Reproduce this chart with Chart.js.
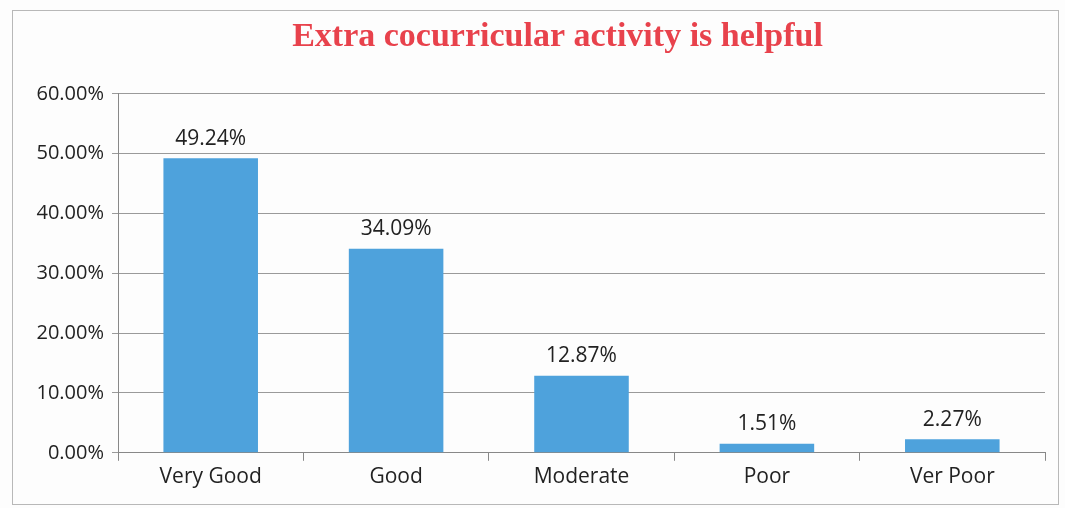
<!DOCTYPE html>
<html>
<head>
<meta charset="utf-8">
<script src="https://cdn.jsdelivr.net/npm/chart.js@4.4.1/dist/chart.umd.min.js"></script>
<style>
  html, body { margin: 0; padding: 0; background: #fdfdfd; }
  #wrap { position: relative; width: 1065px; height: 508px; }
  #frame { position: absolute; left: 12px; top: 10px; right: 6px; bottom: 3px; border: 1px solid #b8b8b8; pointer-events: none; }
</style>
</head>
<body>
<div id="wrap">
  <canvas id="myChart" width="1065" height="508"></canvas>
  <div id="frame"></div>
</div>
<script>
const categories = ['Very Good', 'Good', 'Moderate', 'Poor', 'Ver Poor'];
const percentages = [49.24, 34.09, 12.87, 1.51, 2.27];
const yTickValues = [0, 10, 20, 30, 40, 50, 60];

// draw the value labels above each bar
const valueLabels = {
  id: 'valueLabels',
  afterDatasetsDraw(chart) {
    const ctx = chart.ctx;
    const meta = chart.getDatasetMeta(0);
    ctx.save();
    ctx.font = '21px "Open Sans", sans-serif';
    ctx.fillStyle = '#222';
    ctx.textAlign = 'center';
    ctx.textBaseline = 'bottom';
    meta.data.forEach((bar, i) => {
      ctx.fillText(percentages[i].toFixed(2) + '%', bar.x, bar.y - 9);
    });
    ctx.restore();
  }
};

// title in the original sits a bit right of the canvas centre
const shiftTitle = {
  id: 'shiftTitle',
  afterLayout(chart) {
    const t = chart.titleBlock;
    if (t) { t.left += 27; t.right += 27; }
  }
};

const ctx = document.getElementById('myChart').getContext('2d');
new Chart(ctx, {
  type: 'bar',
  data: {
    labels: categories,
    datasets: [{
      data: percentages,
      backgroundColor: '#4ea2dc',
      barPercentage: 0.51,
      categoryPercentage: 1.0
    }]
  },
  options: {
    responsive: false,
    animation: false,
    layout: { padding: { left: 16, right: 20, top: 12, bottom: 14 } },
    scales: {
      x: {
        grid: {
          offset: true,
          drawOnChartArea: false,
          tickLength: 8,
          color: '#888'
        },
        border: { color: '#888' },
        ticks: {
          color: '#222',
          font: { family: 'Open Sans', size: 21 },
          padding: 4
        }
      },
      y: {
        min: 0,
        max: 60,
        afterBuildTicks: (axis) => {
          axis.ticks = yTickValues.map(v => ({ value: v }));
        },
        afterFit: (axis) => { axis.width = 102; },
        grid: {
          color: '#9a9a9a',
          tickLength: 6
        },
        border: { color: '#888' },
        ticks: {
          color: '#222',
          font: { family: 'Open Sans', size: 20 },
          padding: 8,
          callback: (v) => v.toFixed(2) + '%'
        }
      }
    },
    plugins: {
      legend: { display: false },
      tooltip: { enabled: false },
      title: {
        display: true,
        text: 'Extra cocurricular activity is helpful',
        color: '#e8424c',
        font: { family: 'Liberation Serif', size: 34, weight: 'bold' },
        padding: { top: 5, bottom: 36 }
      }
    }
  },
  plugins: [valueLabels, shiftTitle]
});
</script>
</body>
</html>
